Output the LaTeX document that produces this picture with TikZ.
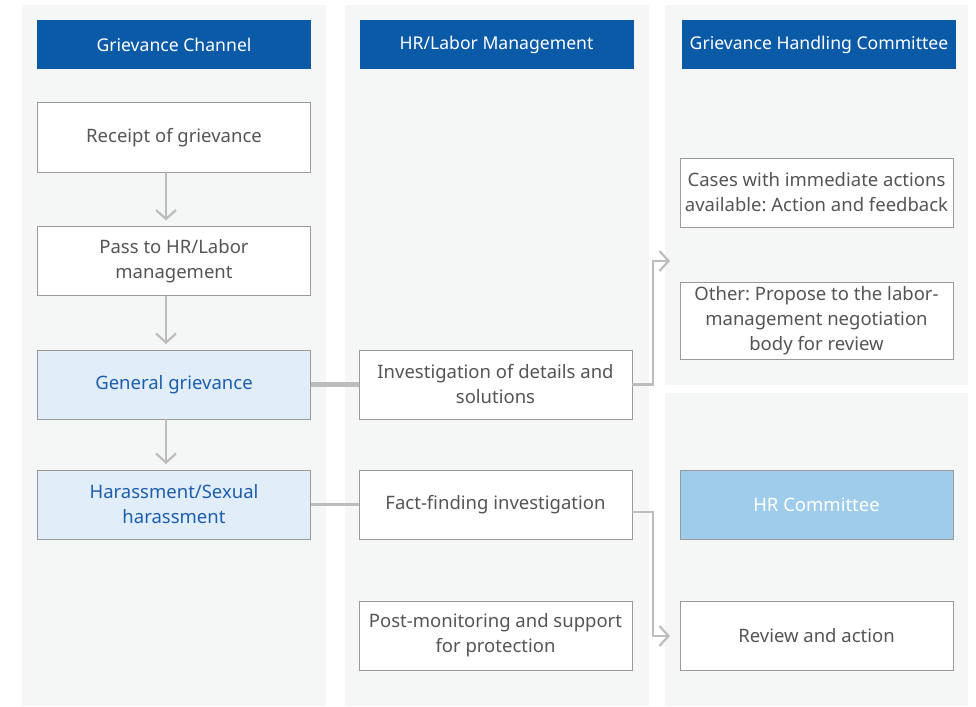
\documentclass[tikz,border=0pt]{standalone}
\usepackage{fontspec}
\setmainfont{Noto Sans}
\usetikzlibrary{arrows.meta}
\definecolor{bgpanel}{HTML}{F5F7F7}
\definecolor{headblue}{HTML}{0A5AA8}
\definecolor{lightfill}{HTML}{E1EDF8}
\definecolor{hrfill}{HTML}{9FCCEA}
\definecolor{boxline}{HTML}{9A9A9A}
\definecolor{txt}{HTML}{555555}
\definecolor{bluetxt}{HTML}{1C5FAE}
\definecolor{conn}{HTML}{BDBDBD}
\tikzset{
  panel/.style={fill=bgpanel, draw=none},
  header/.style={fill=headblue, draw=none, text=white, minimum width=274pt, minimum height=49pt, font=\frenchspacing\fontsize{17.6}{20}\selectfont, inner sep=0pt, outer sep=0pt},
  stepbox/.style={fill=white, draw=boxline, line width=1pt, text=txt, minimum width=273pt, minimum height=69pt, align=center, font=\frenchspacing\fontsize{18.5}{25}\selectfont, inner sep=2pt, outer sep=0pt},
  bluebox/.style={stepbox, fill=lightfill, text=bluetxt},
  hrbox/.style={stepbox, fill=hrfill, text=white},
  arr/.style={draw=conn, line width=2.2pt, -{Straight Barb[length=9pt,width=20pt,line width=2.2pt]}},
  link/.style={draw=conn, line width=2.2pt},
}
\begin{document}
\begin{tikzpicture}[x=1pt,y=-1pt]
\useasboundingbox (0,0) rectangle (976,706);
\fill[white] (0,0) rectangle (976,706);
% panels
\path[panel] (22,5) rectangle (326,706);
\path[panel] (345,5) rectangle (649,706);
\path[panel] (665,5) rectangle (968,385);
\path[panel] (665,393) rectangle (968,706);
% headers
\node[header] (h1) at (174,44.5) {Grievance Channel};
\node[header] (h2) at (496.5,44.5) {HR/Labor Management};
\node[header] (h3) at (819,44.5) {Grievance Handling Committee};
% column 1
\node[stepbox] (receipt) at (174,137.5) {Receipt of grievance};
\node[stepbox] (pass) at (174,261) {Pass to HR/Labor\\management};
\node[bluebox] (general) at (174,384.5) {General grievance};
\node[bluebox] (harass) at (174,504.5) {Harassment/Sexual\\harassment};
% column 2
\node[stepbox] (invest) at (495.5,384.5) {Investigation of details and\\solutions};
\node[stepbox] (fact) at (495.5,504.5) {Fact-finding investigation};
\node[stepbox] (post) at (495.5,635.5) {Post-monitoring and support\\for protection};
% column 3
\node[stepbox] (cases) at (816.5,192.5) {Cases with immediate actions\\available: Action and feedback};
\node[stepbox, minimum height=77pt] (other) at (816.5,320.5) {Other: Propose to the labor-\\management negotiation\\body for review};
\node[hrbox] (hrc) at (816.5,504.5) {HR Committee};
\node[stepbox] (review) at (816.5,635.5) {Review and action};
% connectors
\draw[arr, shorten >=6pt] (receipt.south -| 166,0) -- (pass.north -| 166,0);
\draw[arr, shorten >=6pt] (pass.south -| 166,0) -- (general.north -| 166,0);
\draw[arr, shorten >=6pt] (general.south -| 166,0) -- (harass.north -| 166,0);
\draw[link, line width=4.5pt] (general.east) -- (invest.west);
\draw[link] (harass.east) -- (fact.west);
\coordinate (up) at (670,261);
\coordinate (down) at (670,636);
\draw[arr] (invest.east) -- (653,384.5) -- (653,261) -- (up);
\draw[arr] (fact.east |- 0,512) -- (653,512) -- (653,636) -- (down);
\end{tikzpicture}
\end{document}
